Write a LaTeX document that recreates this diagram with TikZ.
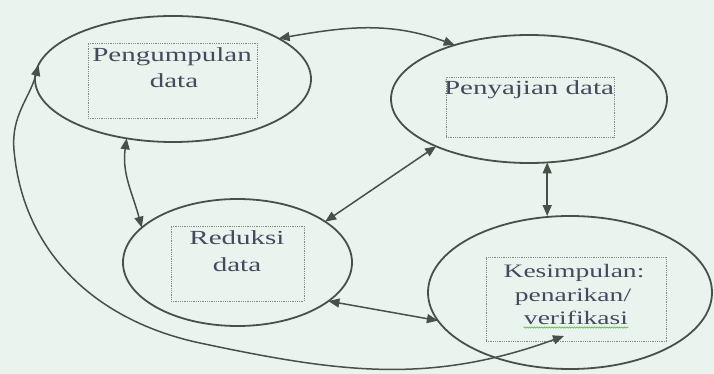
\documentclass[tikz,border=0pt]{standalone}
\usepackage{fontspec}
\setmainfont{Liberation Serif}
\usetikzlibrary{arrows.meta,shapes.geometric,calc,decorations.pathmorphing}
\definecolor{bgc}{HTML}{E9F4EE}
\definecolor{linec}{HTML}{485049}
\definecolor{txtc}{HTML}{434B5E}
\definecolor{boxc}{HTML}{858A87}
\definecolor{wavec}{HTML}{6DB65B}
\begin{document}
\begin{tikzpicture}[x=1pt,y=1pt,
  oval/.style={draw=linec, line width=1.8pt, ellipse, inner sep=0pt, outer sep=0pt},
  dbox/.style={draw=boxc, line width=0.7pt, dash pattern=on 0.9pt off 0.9pt, inner sep=0pt},
  lbl/.style={text=txtc, font=\fontsize{20}{24}\selectfont, inner sep=0pt, anchor=base, xscale=1.45},
  lbls/.style={lbl, font=\fontsize{19}{23}\selectfont},
  link/.style={draw=linec, line width=1.5pt, {Triangle[length=11pt,width=9pt]}-{Triangle[length=11pt,width=9pt]}},
]
\fill[bgc] (0,0) rectangle (714,-374);
\useasboundingbox (0,0) rectangle (714,-374);

% dotted text frames
\node[dbox, minimum width=169pt, minimum height=75pt] (b1) at (172.5,-80.5) {};
\node[dbox, minimum width=168pt, minimum height=60pt] (b2) at (530,-107) {};
\node[dbox, minimum width=133pt, minimum height=75pt] (b3) at (237.5,-263.5) {};
\node[dbox, minimum width=180pt, minimum height=84pt] (b4) at (576,-299) {};

% ellipses
\node[oval, minimum width=276pt, minimum height=126pt] (e1) at (173,-79) {};
\node[oval, minimum width=276pt, minimum height=128pt] (e2) at (529,-99) {};
\node[oval, minimum width=229pt, minimum height=127pt] (e3) at (237.5,-262.5) {};
\node[oval, minimum width=284pt, minimum height=153pt] (e4) at (570,-292.5) {};

% texts
\node[lbl] (t1a) at (172,-62) {Pengumpulan};
\node[lbl] (t1b) at (174,-88) {data};
\node[lbl] (t2) at (529,-95) {Penyajian data};
\node[lbl] (t3a) at (237,-244) {Reduksi};
\node[lbl] (t3b) at (237,-271) {data};
\node[lbls] (t4a) at (574,-277) {Kesimpulan:};
\node[lbls] (t4b) at (573,-301) {penarikan/};
\node[lbls] (t4c) at (576,-324) {verifikasi};
\draw[wavec, line width=0.7pt, decorate, decoration={snake, amplitude=0.7pt, segment length=2.5pt}]
  ($(t4c.base west)+(0,-3.5)$) -- ($(t4c.base east)+(0,-3.5)$);

% connectors
\draw[link] (e1.21) to[out=10,in=160] (e2.144.5);
\draw[link] (e1.232) to[out=-98,in=105] (e3.160);
\draw[link] (e2.207) -- (e3.25.6);
\draw[link] (e2.286.5) -- (e2.286.5 |- e4.north);
\draw[link] (e3.337.5) -- (e4.192.5);
\coordinate (side) at (14,-150);
\coordinate (mid) at (200,-343);
\coordinate (k4) at (564,-336);
\draw[link] (e1.174) to[out=-105,in=95] (side) to[out=-85,in=168] (mid) to[out=-12,in=200] (k4);
\end{tikzpicture}
\end{document}
